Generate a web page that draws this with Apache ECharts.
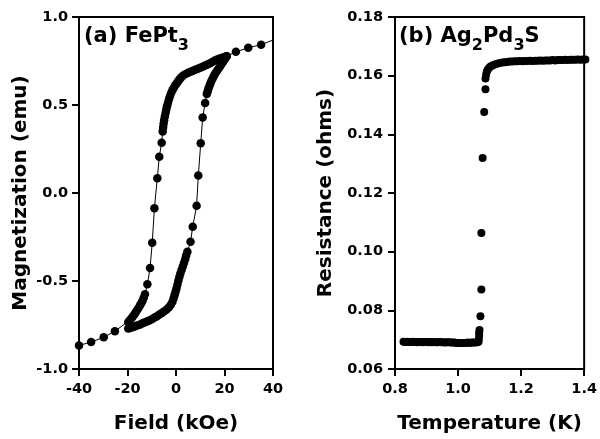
<!DOCTYPE html>
<html>
<head>
<meta charset="utf-8">
<script src="https://cdn.jsdelivr.net/npm/echarts@6/dist/echarts.min.js"></script>
<style>
  html, body { margin: 0; padding: 0; background: #fff; }
  #chart { width: 600px; height: 439px; }
</style>
</head>
<body>
<div id="chart"></div>
<script>
// Panel (a): FePt3 hysteresis loop, field in kOe, moment in emu
const fieldDown = [40, 35.1, 29.8, 24.7, 20.9, 20.0, 19.0, 18.0, 17.0, 16.0, 15.0, 14.0, 13.0, 12.0, 11.0, 10.0, 9.0, 8.0, 7.0, 6.0, 5.0, 4.0, 3.0,
  2.2, 1.5, 0.9, 0.3, -0.3, -0.9, -1.5, -2.0, -2.5, -2.9, -3.3, -3.7, -4.0, -4.3, -4.6, -4.9, -5.1, -5.3, -5.5,
  -5.9, -6.9, -7.7, -8.9, -9.8, -10.7, -11.8, -12.8,
  -13.3, -13.8, -14.3, -14.8, -15.4, -16.0, -16.6, -17.2, -17.8, -18.4, -19.0, -19.7,
  -25.2, -29.8, -35.0, -40.0];
const momentDown = [0.869, 0.843, 0.825, 0.802, 0.777, 0.773, 0.768, 0.764, 0.759, 0.753, 0.745, 0.737, 0.730, 0.724, 0.718, 0.712, 0.706, 0.700, 0.695, 0.689, 0.683, 0.676, 0.667,
  0.658, 0.647, 0.635, 0.623, 0.612, 0.598, 0.584, 0.568, 0.550, 0.532, 0.513, 0.493, 0.474, 0.455, 0.435, 0.414, 0.393, 0.372, 0.350,
  0.286, 0.206, 0.084, -0.086, -0.283, -0.426, -0.519, -0.575,
  -0.595, -0.612, -0.625, -0.638, -0.652, -0.665, -0.678, -0.690, -0.702, -0.713, -0.723, -0.733,
  -0.785, -0.820, -0.847, -0.866];
const fieldUp = [-19.7, -19.0, -18.0, -17.0, -16.0, -15.0, -14.0, -13.0, -12.0, -11.0, -10.0, -9.0, -8.0, -7.0, -6.0, -5.0, -4.0, -3.0,
  -2.2, -1.5, -1.0, -0.6, -0.2, 0.2, 0.6, 1.0, 1.4, 1.8, 2.3, 2.8, 3.3, 3.8, 4.2, 4.7,
  6.0, 6.9, 8.5, 9.2, 10.2, 11.0, 12.0,
  12.7, 13.0, 13.3, 13.7, 14.1, 14.5, 15.0, 15.5, 16.0, 16.6, 17.2, 17.8, 18.4, 19.0, 19.6, 20.2, 20.9];
const momentUp = [-0.770, -0.767, -0.763, -0.758, -0.753, -0.748, -0.742, -0.736, -0.730, -0.724, -0.717, -0.709, -0.701, -0.692, -0.683, -0.673, -0.663, -0.650,
  -0.636, -0.619, -0.600, -0.581, -0.562, -0.542, -0.520, -0.497, -0.477, -0.457, -0.437, -0.418, -0.397, -0.376, -0.355, -0.334,
  -0.277, -0.192, -0.072, 0.099, 0.283, 0.429, 0.511,
  0.562, 0.575, 0.590, 0.605, 0.620, 0.634, 0.648, 0.662, 0.675, 0.688, 0.700, 0.712, 0.724, 0.737, 0.749, 0.762, 0.777];

// Panel (b): Ag2Pd3S resistance vs temperature
const tempK = [0.827, 0.833, 0.839, 0.845, 0.851, 0.857, 0.863, 0.869, 0.875, 0.881, 0.887, 0.893, 0.899, 0.905, 0.911, 0.917, 0.923, 0.929, 0.935, 0.941,
  0.947, 0.953, 0.959, 0.965, 0.971, 0.977, 0.983, 0.989, 0.995, 1.001, 1.007, 1.013, 1.019, 1.025, 1.031, 1.037, 1.043, 1.049, 1.055, 1.061, 1.065,
  1.066, 1.067, 1.067, 1.068, 1.071, 1.074, 1.074, 1.078, 1.083, 1.087,
  1.087, 1.089, 1.091, 1.094, 1.098, 1.103, 1.109, 1.116, 1.124, 1.132, 1.140, 1.148, 1.156,
  1.164, 1.172, 1.180, 1.188, 1.196, 1.204, 1.212, 1.220, 1.228, 1.236, 1.244, 1.252, 1.260, 1.268, 1.276, 1.284,
  1.292, 1.300, 1.308, 1.316, 1.324, 1.332, 1.340, 1.348, 1.356, 1.364, 1.372, 1.380, 1.388, 1.396, 1.404];
const resistance = [0.0693, 0.0692, 0.0693, 0.0692, 0.0692, 0.0693, 0.0692, 0.0691, 0.0692, 0.0692, 0.0691, 0.0692, 0.0692, 0.0691, 0.0692, 0.0691, 0.0692, 0.0691, 0.0691, 0.0692,
  0.0691, 0.0691, 0.0690, 0.0691, 0.0691, 0.0690, 0.0690, 0.0690, 0.0689, 0.0689, 0.0689, 0.0689, 0.0689, 0.0689, 0.0690, 0.0689, 0.0690, 0.0690, 0.0690, 0.0691, 0.0693,
  0.0702, 0.0713, 0.0724, 0.0733, 0.0780, 0.0871, 0.1064, 0.1319, 0.1476, 0.1554,
  0.1590, 0.1603, 0.1613, 0.1620, 0.1626, 0.1631, 0.1635, 0.1638, 0.1641, 0.1643, 0.1645, 0.1646, 0.1647,
  0.1648, 0.1648, 0.1649, 0.1649, 0.1650, 0.1649, 0.1650, 0.1650, 0.1651, 0.1650, 0.1651, 0.1651, 0.1652, 0.1651, 0.1652, 0.1652,
  0.1652, 0.1653, 0.1652, 0.1653, 0.1653, 0.1653, 0.1654, 0.1653, 0.1654, 0.1654, 0.1654, 0.1655, 0.1654, 0.1655, 0.1655];

const FONT = 'DejaVu Sans';
const BLACK = '#000';

function zip(xs, ys) { return xs.map((x, i) => [x, ys[i]]); }

const downData = zip(fieldDown, momentDown);
// the sweep starts at the field limit without a marker there
downData[0] = { value: downData[0], symbol: 'none' };

const axisCommon = {
  axisLine: { show: true, onZero: false, lineStyle: { color: BLACK, width: 2 } },
  axisTick: { show: true, inside: false, length: 7, lineStyle: { color: BLACK, width: 2 } },
  splitLine: { show: false },
  nameLocation: 'middle',
  nameTextStyle: { fontFamily: FONT, fontWeight: 'bold', fontSize: 20, color: BLACK }
};
const labelCommon = { fontFamily: FONT, fontWeight: 'bold', fontSize: 14.5, color: BLACK };

const gridBox = { show: true, borderColor: BLACK, borderWidth: 2, containLabel: false };

const titleRich = {
  t: { fontFamily: FONT, fontWeight: 'bold', fontSize: 21, lineHeight: 22, verticalAlign: 'top', fill: BLACK },
  s: { fontFamily: FONT, fontWeight: 'bold', fontSize: 16, lineHeight: 16, padding: [12, 0, 0, 0], verticalAlign: 'top', fill: BLACK }
};

const option = {
  animation: false,
  backgroundColor: '#fff',
  grid: [
    Object.assign({ left: 79, top: 17, width: 194, height: 352 }, gridBox),
    Object.assign({ left: 395, top: 17, width: 192, height: 352 }, gridBox)
  ],
  xAxis: [
    Object.assign({}, axisCommon, {
      gridIndex: 0, type: 'value', min: -40, max: 40, interval: 20,
      name: 'Field (kOe)', nameGap: 45,
      axisLabel: Object.assign({ margin: 13, formatter: v => String(v) }, labelCommon)
    }),
    Object.assign({}, axisCommon, {
      gridIndex: 1, type: 'value', min: 0.8, max: 1.4, interval: 0.2,
      name: 'Temperature (K)', nameGap: 45,
      axisLabel: Object.assign({ margin: 13, formatter: v => v.toFixed(1) }, labelCommon)
    })
  ],
  yAxis: [
    Object.assign({}, axisCommon, {
      gridIndex: 0, type: 'value', min: -1, max: 1, interval: 0.5,
      name: 'Magnetization (emu)', nameGap: 48,
      axisLabel: Object.assign({ margin: 11, formatter: v => v.toFixed(1) }, labelCommon)
    }),
    Object.assign({}, axisCommon, {
      gridIndex: 1, type: 'value', min: 0.06, max: 0.18, interval: 0.02,
      name: 'Resistance (ohms)', nameGap: 59,
      axisLabel: Object.assign({ margin: 12, formatter: v => v.toFixed(2) }, labelCommon)
    })
  ],
  series: [
    {
      type: 'line', xAxisIndex: 0, yAxisIndex: 0, clip: false,
      data: downData,
      symbol: 'circle', symbolSize: 8.5, showAllSymbol: true,
      itemStyle: { color: BLACK, opacity: 1 },
      lineStyle: { color: BLACK, width: 1 }
    },
    {
      type: 'line', xAxisIndex: 0, yAxisIndex: 0, clip: false,
      data: zip(fieldUp, momentUp),
      symbol: 'circle', symbolSize: 8.5, showAllSymbol: true,
      itemStyle: { color: BLACK, opacity: 1 },
      lineStyle: { color: BLACK, width: 1 }
    },
    {
      type: 'scatter', xAxisIndex: 1, yAxisIndex: 1, clip: false,
      data: zip(tempK, resistance),
      symbol: 'circle', symbolSize: 8,
      itemStyle: { color: BLACK, opacity: 1 }
    }
  ],
  graphic: [
    {
      type: 'text', left: 84, top: 26, z: 100,
      style: { text: '{t|(a) FePt}{s|3}', rich: titleRich }
    },
    {
      type: 'text', left: 399, top: 26, z: 100,
      style: { text: '{t|(b) Ag}{s|2}{t|Pd}{s|3}{t|S}', rich: titleRich }
    }
  ]
};

const chart = echarts.init(document.getElementById('chart'), null, { renderer: 'canvas' });
chart.setOption(option);
</script>
</body>
</html>
